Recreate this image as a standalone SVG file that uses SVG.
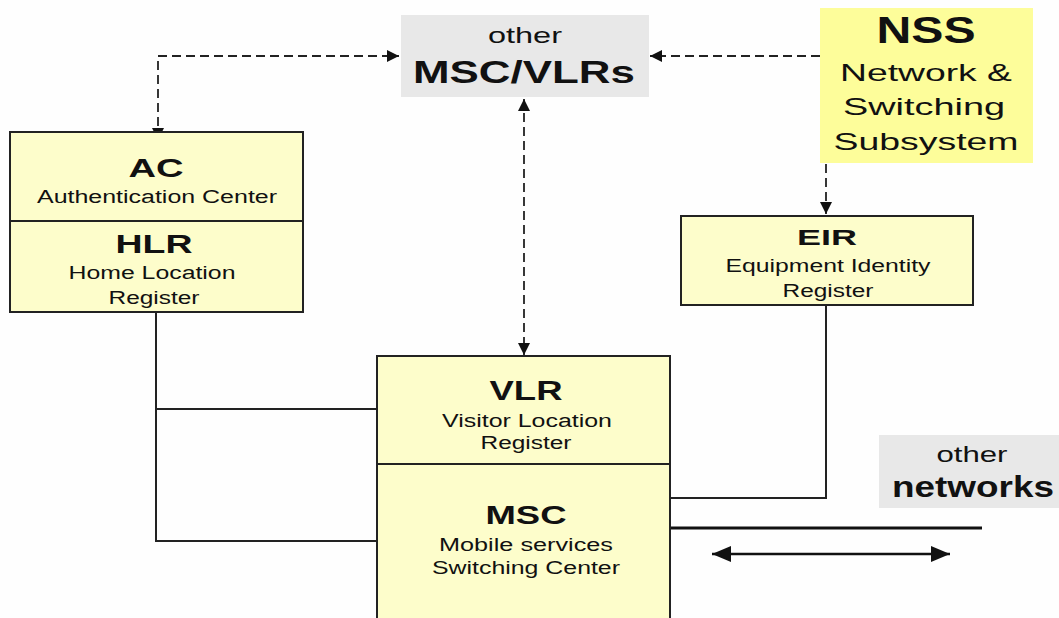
<svg xmlns="http://www.w3.org/2000/svg" width="1059" height="618" viewBox="0 0 1059 618">
<style>
.box{fill:#fdfdcb;stroke:#222;stroke-width:2}
.div{stroke:#222;stroke-width:2}
.gray{fill:#e8e8e8}
.nss{fill:#fdfd9a}
text{font-family:"Liberation Sans",Arial,sans-serif;fill:#111;text-anchor:middle}
.t{font-weight:bold}
.s{font-size:18px}
.dash{fill:none;stroke:#222;stroke-width:1.8;stroke-dasharray:9,5}
.line{fill:none;stroke:#222;stroke-width:2}
</style>
<defs>
<marker id="ah" markerUnits="userSpaceOnUse" markerWidth="14" markerHeight="14" viewBox="0 0 14 14" refX="13" refY="7" orient="auto-start-reverse">
<path d="M1,1 L13,7 L1,13 Z" fill="#111"/>
</marker>
<marker id="big" markerUnits="userSpaceOnUse" markerWidth="20" markerHeight="16" viewBox="0 0 20 16" refX="19" refY="8" orient="auto-start-reverse">
<path d="M0,0 L19,8 L0,16 Z" fill="#111"/>
</marker>
</defs>
<rect width="1059" height="618" fill="#fefefe"/>

<g id="connectors">
<path class="dash" d="M158,140 V56 H399" marker-start="url(#ah)" marker-end="url(#ah)"/>
<path class="dash" d="M820,56 H650" marker-end="url(#ah)"/>
<path class="dash" d="M524,99 V355" marker-start="url(#ah)" marker-end="url(#ah)"/>
<path class="dash" d="M826,164 V214" marker-end="url(#ah)"/>
<path class="line" d="M156,312 V541 H377 M156,409 H377"/>
<path class="line" d="M826,305 V498 H670"/>
<path fill="none" stroke="#111" stroke-width="3.2" d="M670,528 H982"/>
<path fill="none" stroke="#111" stroke-width="2.6" d="M712,554 H950" marker-start="url(#big)" marker-end="url(#big)"/>
</g>

<g id="other-msc-vlrs">
<rect class="gray" x="401" y="15" width="248" height="82"/>
<text x="525" y="43" font-size="22" textLength="74" lengthAdjust="spacingAndGlyphs">other</text>
<text class="t" x="524" y="83" font-size="31" textLength="222" lengthAdjust="spacingAndGlyphs">MSC/VLRs</text>
</g>

<g id="nss">
<rect class="nss" x="820" y="8" width="213" height="155"/>
<text class="t" x="926" y="43" font-size="37" textLength="99" lengthAdjust="spacingAndGlyphs">NSS</text>
<text x="926" y="81" font-size="24" textLength="172" lengthAdjust="spacingAndGlyphs">Network &amp;</text>
<text x="924" y="115" font-size="24" textLength="162" lengthAdjust="spacingAndGlyphs">Switching</text>
<text x="926" y="150" font-size="24" textLength="185" lengthAdjust="spacingAndGlyphs">Subsystem</text>
</g>

<g id="ac-hlr">
<rect class="box" x="10" y="132" width="293" height="180"/>
<line class="div" x1="10" y1="221" x2="303" y2="221"/>
<text class="t" x="156" y="177" font-size="25" textLength="55" lengthAdjust="spacingAndGlyphs">AC</text>
<text class="s" x="157" y="203" textLength="240" lengthAdjust="spacingAndGlyphs">Authentication Center</text>
<text class="t" x="154" y="253" font-size="25" textLength="77" lengthAdjust="spacingAndGlyphs">HLR</text>
<text class="s" x="152" y="279" textLength="167" lengthAdjust="spacingAndGlyphs">Home Location</text>
<text class="s" x="154" y="304" textLength="91" lengthAdjust="spacingAndGlyphs">Register</text>
</g>

<g id="eir">
<rect class="box" x="681" y="216" width="292" height="89"/>
<text class="t" x="827" y="245" font-size="22" textLength="60" lengthAdjust="spacingAndGlyphs">EIR</text>
<text class="s" x="828" y="272" textLength="205" lengthAdjust="spacingAndGlyphs">Equipment Identity</text>
<text class="s" x="828" y="297" textLength="91" lengthAdjust="spacingAndGlyphs">Register</text>
</g>

<g id="vlr-msc">
<rect class="box" x="377" y="356" width="293" height="268"/>
<line class="div" x1="377" y1="464" x2="670" y2="464"/>
<text class="t" x="526" y="400" font-size="27" textLength="73" lengthAdjust="spacingAndGlyphs">VLR</text>
<text class="s" x="527" y="427" textLength="170" lengthAdjust="spacingAndGlyphs">Visitor Location</text>
<text class="s" x="526" y="449" textLength="91" lengthAdjust="spacingAndGlyphs">Register</text>
<text class="t" x="526" y="524" font-size="26" textLength="81" lengthAdjust="spacingAndGlyphs">MSC</text>
<text class="s" x="526" y="551" textLength="174" lengthAdjust="spacingAndGlyphs">Mobile services</text>
<text class="s" x="526" y="574" textLength="188" lengthAdjust="spacingAndGlyphs">Switching Center</text>
</g>

<g id="other-networks">
<rect class="gray" x="879" y="435" width="182" height="73"/>
<text x="972" y="462" font-size="22" textLength="71" lengthAdjust="spacingAndGlyphs">other</text>
<text class="t" x="973" y="497" font-size="30" textLength="162" lengthAdjust="spacingAndGlyphs">networks</text>
</g>
</svg>
